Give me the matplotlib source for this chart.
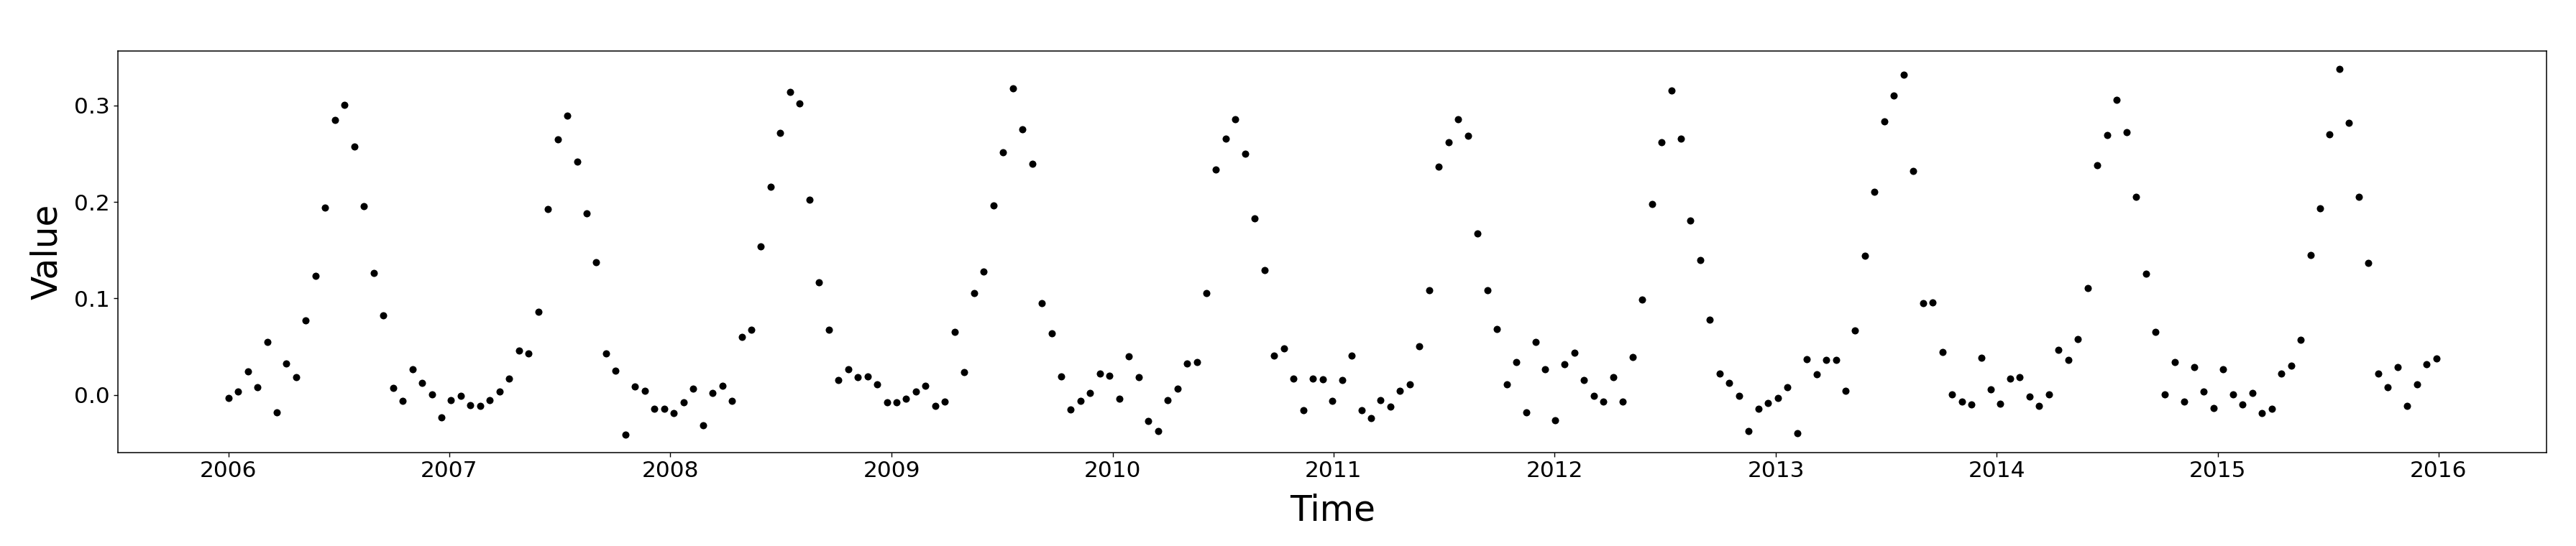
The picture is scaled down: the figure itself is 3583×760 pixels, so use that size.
import numpy as np
import pandas as pd
import matplotlib
matplotlib.use("Agg")
import matplotlib.pyplot as plt
import matplotlib.dates as mdates

# 16-day composite series
start_date = "2006-01-01"
step = "16D"
values = [
    -0.0031, 0.0032, 0.0244, 0.0077, 0.0547, -0.0178, 0.0326, 0.0182, 0.0769, 0.1231,
    0.1945, 0.2849, 0.3008, 0.2574, 0.1956, 0.1262, 0.0822, 0.0074, -0.0062, 0.0264,
    0.0128, 0.0003, -0.0229, -0.0051, -0.0008, -0.0105, -0.0116, -0.0051, 0.0034, 0.0170,
    0.0462, 0.0431, 0.0865, 0.1925, 0.2651, 0.2892, 0.2418, 0.1882, 0.1378, 0.0431,
    0.0255, -0.0408, 0.0088, 0.0043, -0.0144, -0.0144, -0.0190, -0.0079, 0.0066, -0.0314,
    0.0023, 0.0097, -0.0062, 0.0601, 0.0675, 0.1537, 0.2155, 0.2713, 0.3144, 0.3019,
    0.2021, 0.1168, 0.0675, 0.0151, 0.0264, 0.0182, 0.0190, 0.0108, -0.0079, -0.0079,
    -0.0039, 0.0034, 0.0097, -0.0113, -0.0071, 0.0655, 0.0233, 0.1052, 0.1276, 0.1967,
    0.2515, 0.3178, 0.2755, 0.2398, 0.0950, 0.0635, 0.0190, -0.0153, -0.0062, 0.0023,
    0.0221, 0.0202, -0.0039, 0.0403, 0.0182, -0.0272, -0.0377, -0.0051, 0.0066, 0.0326,
    0.0338, 0.1052, 0.2333, 0.2659, 0.2860, 0.2500, 0.1831, 0.1296, 0.0411, 0.0485,
    0.0170, -0.0156, 0.0170, 0.0159, -0.0062, 0.0151, 0.0411, -0.0156, -0.0238, -0.0051,
    -0.0124, 0.0046, 0.0108, 0.0508, 0.1083, 0.2364, 0.2617, 0.2860, 0.2690, 0.1673,
    0.1083, 0.0683, 0.0108, 0.0338, -0.0178, 0.0550, 0.0264, -0.0260, 0.0318, 0.0434,
    0.0151, -0.0008, -0.0071, 0.0182, -0.0071, 0.0391, 0.0990, 0.1979, 0.2619, 0.3152,
    0.2659, 0.1809, 0.1401, 0.0780, 0.0221, 0.0128, -0.0008, -0.0377, -0.0144, -0.0082,
    -0.0028, 0.0077, -0.0397, 0.0372, 0.0213, 0.0360, 0.0360, 0.0046, 0.0666, 0.1443,
    0.2104, 0.2838, 0.3104, 0.3322, 0.2325, 0.0950, 0.0961, 0.0445, 0.0003, -0.0071,
    -0.0102, 0.0383, 0.0057, -0.0090, 0.0170, 0.0182, -0.0019, -0.0113, 0.0003, 0.0465,
    0.0360, 0.0581, 0.1106, 0.2379, 0.2693, 0.3059, 0.2724, 0.2053, 0.1253, 0.0655,
    0.0003, 0.0341, -0.0071, 0.0287, 0.0034, -0.0133, 0.0264, 0.0003, -0.0102, 0.0023,
    -0.0187, -0.0144, 0.0224, 0.0306, 0.0570, 0.1454, 0.1936, 0.2704, 0.3376, 0.2818,
    0.2053, 0.1369, 0.0224, 0.0077, 0.0287, -0.0113, 0.0108, 0.0318, 0.0380,
]

dates = pd.date_range(start_date, periods=len(values), freq=step)

fig = plt.figure(figsize=(35.83, 7.6), dpi=100)
ax = fig.add_axes([0.0458, 0.1711, 0.9428, 0.7355])

ax.scatter(dates, values, color="black", s=52, linewidths=0)

ax.xaxis.set_major_locator(mdates.YearLocator())
ax.xaxis.set_major_formatter(mdates.DateFormatter("%Y"))
ax.set_yticks([0.0, 0.1, 0.2, 0.3])

ax.tick_params(labelsize=22.5, length=4.5, width=1.0)
for spine in ax.spines.values():
    spine.set_linewidth(1.1)

ax.set_xlabel("Time", fontsize=35, labelpad=12)
ax.set_ylabel("Value", fontsize=35, labelpad=10)

fig.savefig("out.png", dpi=100)
